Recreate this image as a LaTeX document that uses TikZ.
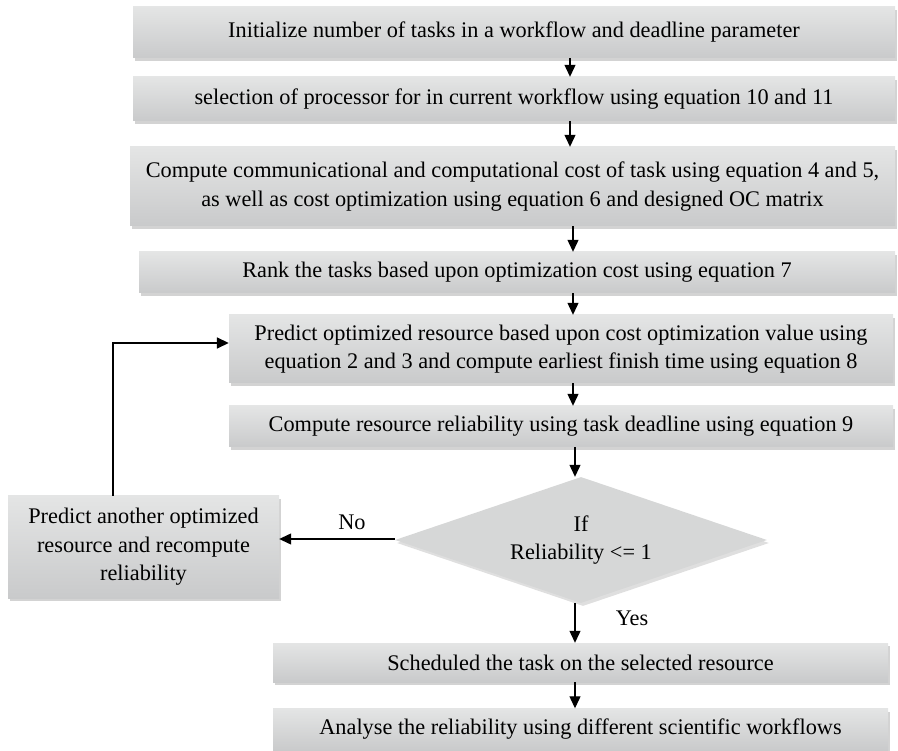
\documentclass[tikz,border=0pt]{standalone}
\usepackage{fontspec}
\setmainfont{Liberation Serif}
\usetikzlibrary{arrows.meta,shapes.geometric,shadows}
\definecolor{boxtop}{RGB}{228,229,229}
\definecolor{boxbot}{RGB}{201,202,203}
\definecolor{diafill}{RGB}{214,215,215}
\tikzset{
  stepbox/.style={rectangle, draw=none, top color=boxtop, bottom color=boxbot,
    inner sep=0pt, align=center,
    drop shadow={opacity=0.35, shadow xshift=2pt, shadow yshift=-3pt},
    font=\fontsize{22.3}{28.5}\selectfont},
  decision/.style={diamond, aspect=2.95, draw=none, fill=diafill, inner sep=0pt, align=center,
    drop shadow={opacity=0.25, shadow xshift=2pt, shadow yshift=-3pt},
    font=\fontsize{22.3}{28.5}\selectfont},
  arr/.style={line width=1.2pt, -{Triangle[length=12pt,width=11pt]}},
  looparr/.style={line width=1.6pt, -{Triangle[length=12pt,width=11pt]}},
  lbl/.style={font=\fontsize{22.3}{28.5}\selectfont, inner sep=0pt}
}
\begin{document}
\begin{tikzpicture}[x=1pt,y=-1pt]
\useasboundingbox (0,0) rectangle (898,751);
\node[stepbox, minimum width=762pt, minimum height=51pt] (b1) at (514,32.5)
  {Initialize number of tasks in a workflow and deadline parameter};
\node[stepbox, minimum width=762pt, minimum height=44pt] (b2) at (514,99)
  {selection of processor for in current workflow using equation 10 and 11};
\node[stepbox, minimum width=765pt, minimum height=79pt] (b3) at (512.5,186.5)
  {Compute communicational and computational cost of task using equation 4 and 5,\\as well as cost optimization using equation 6 and designed OC matrix};
\node[stepbox, minimum width=756pt, minimum height=41pt] (b4) at (517,272.5)
  {Rank the tasks based upon optimization cost using equation 7};
\node[stepbox, minimum width=664pt, minimum height=68pt] (b5) at (561,349)
  {Predict optimized resource based upon cost optimization value using\\equation 2 and 3 and compute earliest finish time using equation 8};
\node[stepbox, minimum width=664pt, minimum height=41pt] (b6) at (561,426.5)
  {Compute resource reliability using task deadline using equation 9};
\node[decision, minimum width=372pt, minimum height=126pt] (d) at (581,540)
  {If\\Reliability <= 1};
\node[stepbox, minimum width=271pt, minimum height=102pt] (alt) at (143.5,547)
  {Predict another optimized\\resource and recompute\\reliability};
\node[stepbox, minimum width=615pt, minimum height=39pt] (b7) at (580.5,662.5)
  {Scheduled the task on the selected resource};
\node[stepbox, minimum width=615pt, minimum height=42pt] (b8) at (580.5,729.5)
  {Analyse the reliability using different scientific workflows};

\coordinate (x1) at (570,0);
\coordinate (x2) at (573,0);
\coordinate (x3) at (575,0);
\coordinate (lp) at (113,343);
\coordinate (ny) at (0,539);

\draw[arr] (x1 |- b1.south) -- (x1 |- b2.north);
\draw[arr] (x1 |- b2.south) -- (x1 |- b3.north);
\draw[arr] (x2 |- b3.south) -- (x2 |- b4.north);
\draw[arr] (x2 |- b4.south) -- (x2 |- b5.north);
\draw[arr] (x2 |- b5.south) -- (x2 |- b6.north);
\draw[arr] (x3 |- b6.south) -- (x3 |- d.north);
\draw[arr] (x3 |- d.south) -- (x3 |- b7.north);
\draw[arr] (x3 |- b7.south) -- (x3 |- b8.north);
\draw[arr] (d.west |- ny) -- (alt.east |- ny);
\draw[looparr] (lp |- alt.north) -- (lp) -- (lp -| b5.west);

\node[lbl] (no) at (352,522) {No};
\node[lbl] (yes) at (632,618) {Yes};
\end{tikzpicture}
\end{document}
